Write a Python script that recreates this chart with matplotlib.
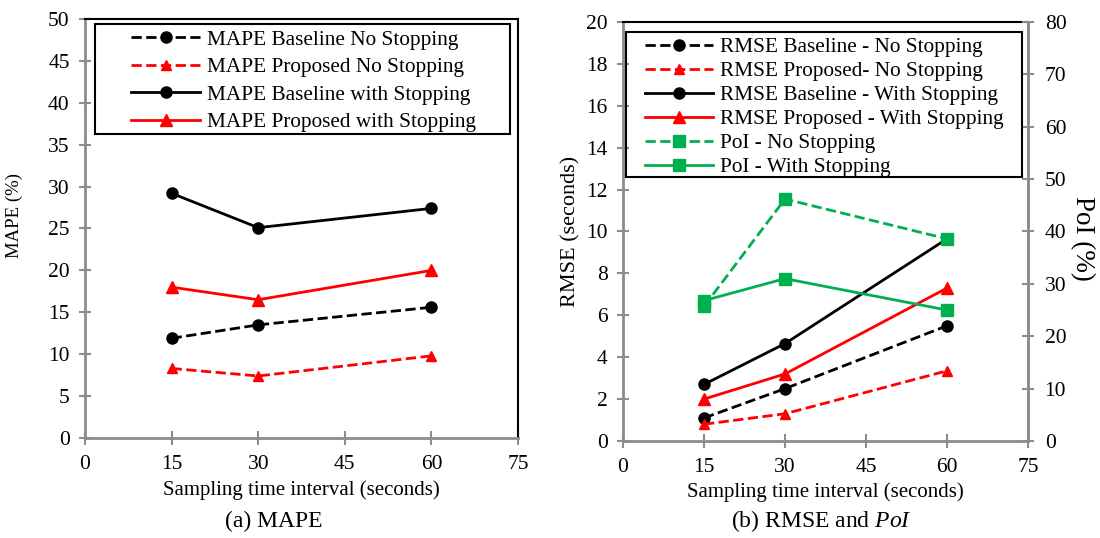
import numpy as np
import matplotlib.pyplot as plt
from matplotlib.patches import Rectangle

plt.rcParams['font.family'] = ['Liberation Serif', 'DejaVu Serif']
plt.rcParams['mathtext.fontset'] = 'custom'
plt.rcParams['mathtext.it'] = 'Liberation Serif:italic'
plt.rcParams['mathtext.rm'] = 'Liberation Serif'

# sampling intervals (s)
x = [15, 30, 60]

# (a) MAPE (%)
mape_base_nostop = [11.9, 13.5, 15.6]
mape_prop_nostop = [8.3, 7.4, 9.8]
mape_base_stop = [29.2, 25.1, 27.4]
mape_prop_stop = [18.0, 16.5, 20.0]

# (b) RMSE (s) and PoI (%)
rmse_base_nostop = [1.1, 2.5, 5.5]
rmse_prop_nostop = [0.8, 1.3, 3.35]
rmse_base_stop = [2.7, 4.65, 9.65]
rmse_prop_stop = [2.0, 3.2, 7.3]
poi_nostop = [25.7, 46.2, 38.6]
poi_stop = [26.8, 31.0, 25.0]

gray = '#8c8c8c'
green = '#00b050'
fs = 15.5   # tick labels
lfs = 15.3  # legend
W, H = 1100, 538

fig = plt.figure(figsize=(11, 5.38), dpi=100)

def px_axes(l, r, b, t):
    return [l / W, 1 - b / H, (r - l) / W, (b - t) / H]

def style_ax(ax, right_gray=False):
    for side in ['left', 'bottom']:
        ax.spines[side].set_color(gray)
        ax.spines[side].set_linewidth(2)
    ax.spines['top'].set_color('black')
    ax.spines['top'].set_linewidth(1.5)
    ax.spines['right'].set_color(gray if right_gray else 'black')
    ax.spines['right'].set_linewidth(2 if right_gray else 1.5)
    ax.tick_params(axis='y', direction='inout', length=8, width=1.5, color=gray, labelsize=fs, pad=7)
    ax.tick_params(axis='x', direction='inout', length=10, width=1.5, color=gray, labelsize=fs, pad=7)
    ax.set_xlim(0, 75)
    ax.set_xticks(np.arange(0, 76, 15))

def box(l, r, t, b):
    fig.add_artist(Rectangle((l / W, 1 - b / H), (r - l) / W, (b - t) / H, transform=fig.transFigure,
                             fill=False, edgecolor='black', lw=1.5, zorder=10))

# ---- (a) MAPE
ax1 = fig.add_axes(px_axes(85, 518, 438, 19))
style_ax(ax1)
ax1.plot(x, mape_base_nostop, 'k--o', lw=2, ms=8, label='MAPE Baseline No Stopping')
ax1.plot(x, mape_prop_nostop, '--^', color='red', lw=2, ms=7, label='MAPE Proposed No Stopping')
ax1.plot(x, mape_base_stop, 'k-o', lw=2, ms=8, label='MAPE Baseline with Stopping')
ax1.plot(x, mape_prop_stop, '-^', color='red', lw=2, ms=9, label='MAPE Proposed with Stopping')
ax1.set_ylim(0, 50)
ax1.set_yticks(np.arange(0, 51, 5))
ax1.set_xlabel('Sampling time interval (seconds)', fontsize=15, labelpad=5)
ax1.set_ylabel('MAPE (%)', fontsize=13.5)
ax1.yaxis.set_label_coords(-0.143, 0.53)
ax1.legend(loc='upper left', bbox_to_anchor=(131 / W, 1 - 30 / H), bbox_transform=fig.transFigure,
           fontsize=lfs, frameon=False, handlelength=3.25, handletextpad=0.33,
           borderpad=0, labelspacing=0.36, borderaxespad=0)
box(95, 510, 24, 134)
fig.text(274 / W, 0.02, '(a) MAPE', ha='center', fontsize=17)

# ---- (b) RMSE and PoI
ax2 = fig.add_axes(px_axes(623, 1028, 441, 22))
style_ax(ax2, right_gray=True)
ax3 = ax2.twinx()
for s in ax3.spines.values():
    s.set_visible(False)
ax3.spines['right'].set_visible(True)
ax3.spines['right'].set_color(gray)
ax3.spines['right'].set_linewidth(2)
ax3.tick_params(axis='y', direction='inout', length=8, width=1.5, color=gray, labelsize=fs, pad=8)

h = []
h += ax2.plot(x, rmse_base_nostop, 'k--o', lw=2, ms=8, label='RMSE Baseline - No Stopping')
h += ax2.plot(x, rmse_prop_nostop, '--^', color='red', lw=2, ms=7, label='RMSE Proposed- No Stopping')
h += ax2.plot(x, rmse_base_stop, 'k-o', lw=2, ms=8, label='RMSE Baseline - With Stopping')
h += ax2.plot(x, rmse_prop_stop, '-^', color='red', lw=2, ms=9, label='RMSE Proposed - With Stopping')
h += ax3.plot(x, poi_nostop, '--s', color=green, lw=2, ms=9, label='PoI - No Stopping')
h += ax3.plot(x, poi_stop, '-s', color=green, lw=2, ms=9, label='PoI - With Stopping')
ax2.set_ylim(0, 20)
ax2.set_yticks(np.arange(0, 21, 2))
ax3.set_ylim(0, 80)
ax3.set_yticks(np.arange(0, 81, 10))
ax2.set_xlabel('Sampling time interval (seconds)', fontsize=15, labelpad=4)
ax2.set_ylabel('RMSE (seconds)', fontsize=16)
ax2.yaxis.set_label_coords(-0.106, 0.5)
ax3.set_ylabel('PoI (%)', fontsize=19.5, rotation=270)
ax3.yaxis.set_label_coords(1.166, 0.484)
ax3.legend(handles=h, loc='upper left', bbox_to_anchor=(645 / W, 1 - 37.5 / H), bbox_transform=fig.transFigure,
           fontsize=lfs, frameon=False, handlelength=3.2, handletextpad=0.33,
           borderpad=0, labelspacing=0.19, borderaxespad=0)
box(626, 1022, 32, 177)
fig.text(821 / W, 0.02, '(b) RMSE and $\\mathit{PoI}$', ha='center', fontsize=17)

fig.savefig('out.png', dpi=100)
